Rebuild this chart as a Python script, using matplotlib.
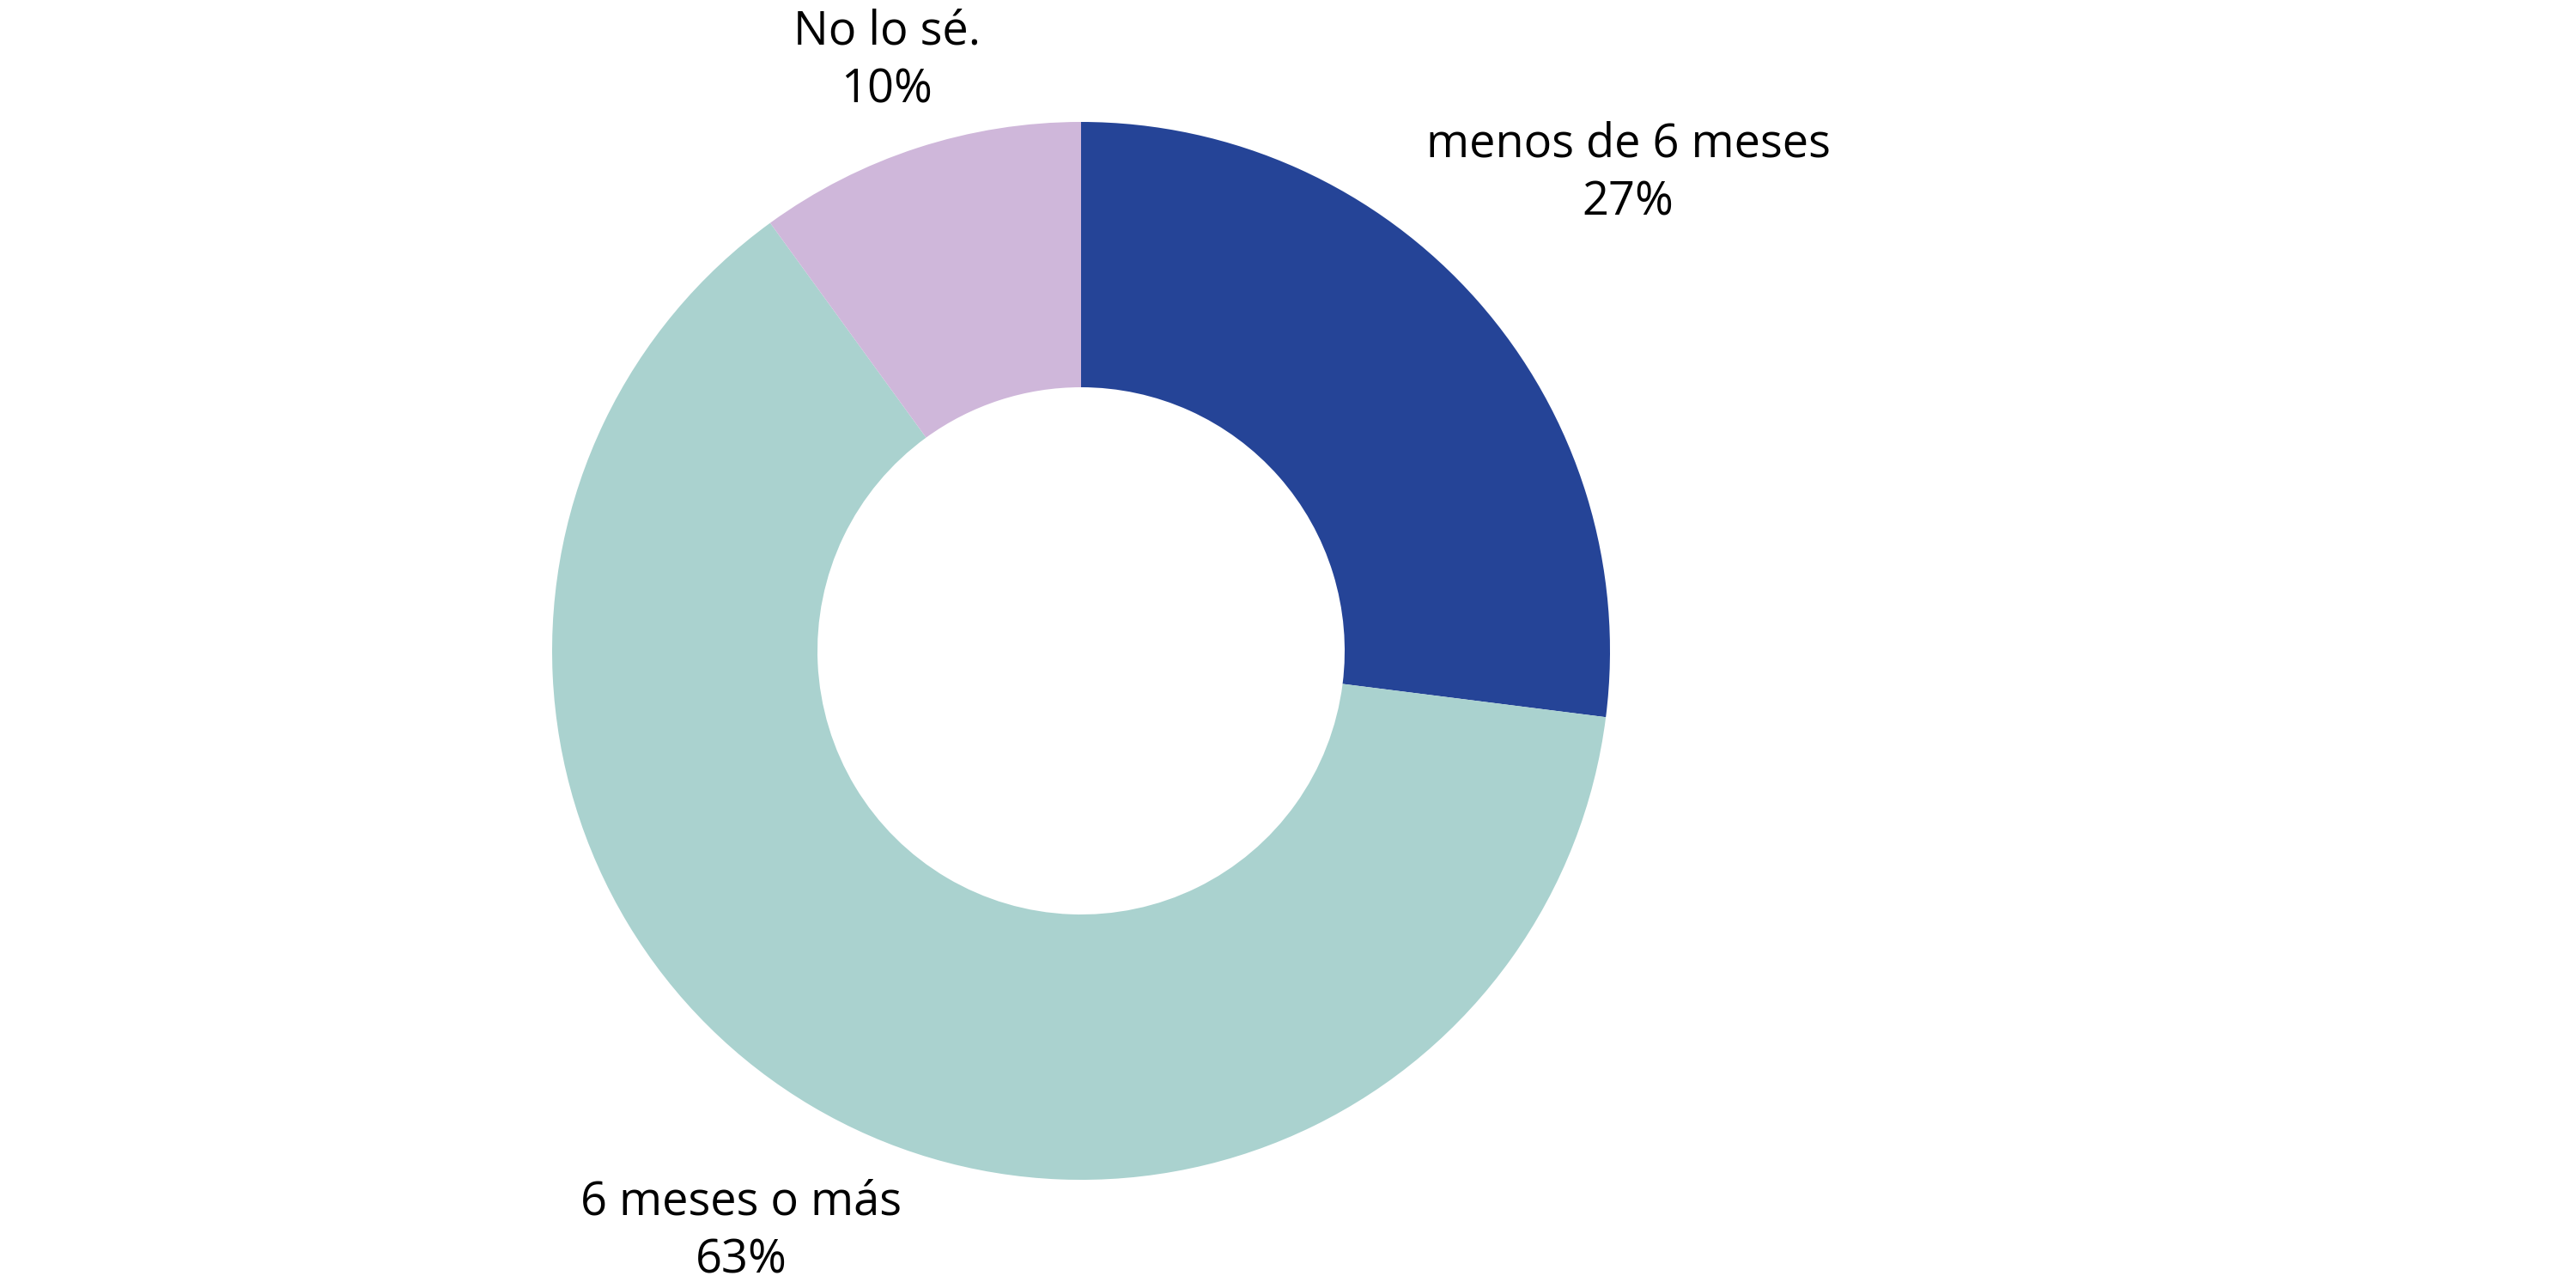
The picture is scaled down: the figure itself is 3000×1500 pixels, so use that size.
import matplotlib
matplotlib.use("Agg")
import matplotlib.pyplot as plt

categories = ["menos de 6 meses", "6 meses o más", "No lo sé."]
values = [27, 63, 10]
pct_labels = ["27%", "63%", "10%"]
colors = ["#254497", "#aad2cf", "#cfb7da"]

W, H = 3000, 1500
fig = plt.figure(figsize=(20, 10), dpi=150)
ax = fig.add_axes([0, 0, 1, 1])
ax.set_xlim(0, W)
ax.set_ylim(0, H)

cx, cy = 1259, H - 758
R = 616
ax.pie(values, colors=colors, startangle=90, counterclock=False,
       center=(cx, cy), radius=R, wedgeprops=dict(width=R - 307, linewidth=0),
       frame=True)
ax.set_xlim(0, W)
ax.set_ylim(0, H)
ax.set_aspect("equal")
ax.axis("off")

label_pos = [(1896, 202), (863, 1434), (1033, 71)]
for cat, pct, (x, y) in zip(categories, pct_labels, label_pos):
    ax.text(x, H - y, f"{cat}\n{pct}", ha="center", va="center",
            fontsize=26, family=["Open Sans", "DejaVu Sans"], color="black",
            linespacing=1.33)

fig.savefig("out.png", dpi=150, facecolor="white")
